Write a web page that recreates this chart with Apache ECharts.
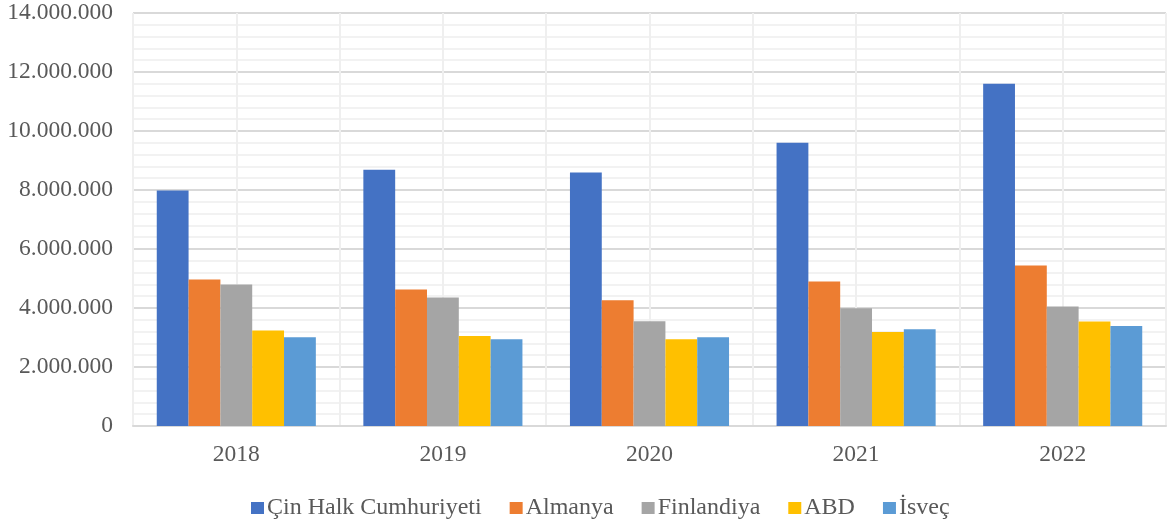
<!DOCTYPE html>
<html>
<head>
	<meta charset="utf-8">
	<title>chart</title>
	<script src="https://cdn.jsdelivr.net/npm/echarts@6/dist/echarts.min.js"></script>
	<style>
		html, body { margin:0; padding:0; background:#fff; }
		#box { width:1167px; height:527px; }
	</style>
</head>
<body>
	<div id="box"></div>
</body>
<script type="text/javascript">
	var years = ['2018', '2019', '2020', '2021', '2022'];
	var cin = [7980000, 8690000, 8590000, 9600000, 11600000];
	var almanya = [4970000, 4630000, 4260000, 4900000, 5440000];
	var finlandiya = [4800000, 4360000, 3550000, 3990000, 4050000];
	var abd = [3240000, 3050000, 2940000, 3190000, 3540000];
	var isvec = [3010000, 2940000, 3010000, 3280000, 3390000];
	var names = ['Çin Halk Cumhuriyeti', 'Almanya', 'Finlandiya', 'ABD', 'İsveç'];
	var colors = ['#4472C4', '#ED7D31', '#A5A5A5', '#FFC000', '#5B9BD5'];

	var font = "'Liberation Serif', 'Times New Roman', serif";

	//sayı biçimi 14.000.000
	function fmt(v){
		return String(v).replace(/\B(?=(\d{3})+(?!\d))/g, '.');
	}

	var seriesData = [cin, almanya, finlandiya, abd, isvec];
	var series = [];
	for(var i = 0; i < names.length; i++){
		series.push({
			name: names[i],
			type: 'bar',
			xAxisIndex: 0,
			data: seriesData[i],
			barGap: '0%',
			barCategoryGap: '23%',
			itemStyle: { color: colors[i] }
		});
	}

	var option = {
		animation: false,
		textStyle: { fontFamily: font },
		grid: { left: 133, right: 1, top: 13, bottom: 101, containLabel: false },
		legend: {
			data: names,
			top: 491,
			left: 246,
			icon: 'rect',
			itemWidth: 13,
			itemHeight: 12,
			itemGap: 28,
			textStyle: { fontFamily: font, fontSize: 24, color: '#595959', padding: [0, 0, 0, -2] }
		},
		xAxis: [
			{
				type: 'category',
				data: years,
				boundaryGap: true,
				axisTick: { show: false },
				axisLine: { lineStyle: { color: '#d9d9d9', width: 2 } },
				axisLabel: { fontFamily: font, fontSize: 23.5, color: '#595959', margin: 17 },
				splitLine: { show: false }
			},
			{
				type: 'value',
				min: 0,
				max: 10,
				interval: 1,
				position: 'bottom',
				axisLabel: { show: false },
				axisLine: { show: false },
				axisTick: { show: false },
				splitLine: { show: true, lineStyle: { color: '#efefef', width: 2 } }
			}
		],
		yAxis: {
			type: 'value',
			min: 0,
			max: 14000000,
			interval: 2000000,
			axisLine: { show: false },
			axisTick: { show: false },
			minorTick: { show: true, splitNumber: 5, length: 0 },
			minorSplitLine: { show: true, lineStyle: { color: '#f2f2f2', width: 2 } },
			splitLine: { lineStyle: { color: '#d9d9d9', width: 2 } },
			axisLabel: { fontFamily: font, fontSize: 23.5, color: '#595959', margin: 20, formatter: fmt }
		},
		series: series
	};

	var myChart = echarts.init(document.getElementById('box'));
	myChart.setOption(option);
</script>
</html>
